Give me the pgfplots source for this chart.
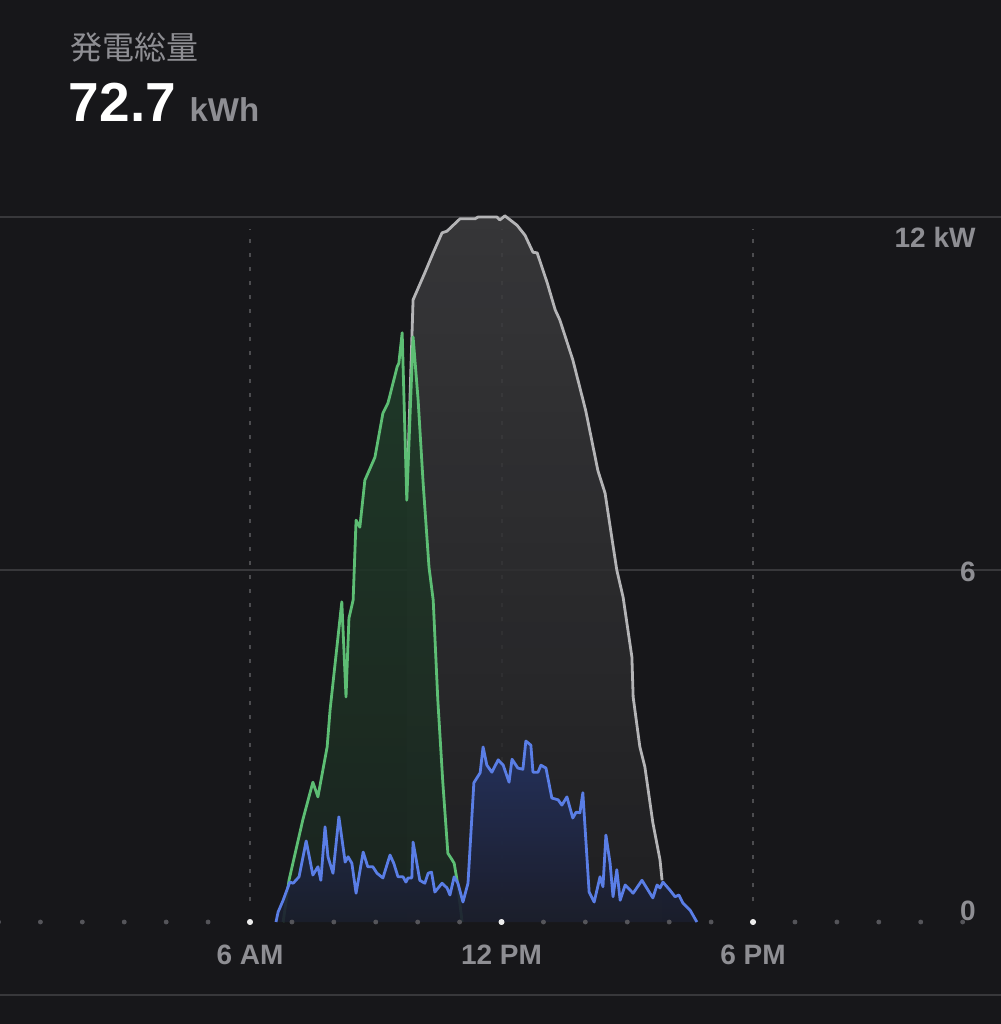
\documentclass[border=0pt]{standalone}
\usepackage{fontspec}
\setmainfont{Liberation Sans}
\newfontfamily\cjk{Noto Sans CJK JP}
\usepackage{pgfplots}
\pgfplotsset{compat=1.18}
\usepackage{pgfplotstable}

\definecolor{bg}{HTML}{17171A}
\definecolor{gridc}{HTML}{38383B}
\definecolor{dotc}{HTML}{55555A}
\definecolor{labc}{HTML}{8E8E93}
\definecolor{grayline}{HTML}{B4B4B6}
\definecolor{graytop}{HTML}{3C3C3E}
\definecolor{graybot}{HTML}{212123}
\definecolor{greenline}{HTML}{5DBE74}
\definecolor{greentop}{HTML}{203E2A}
\definecolor{greenbot}{HTML}{1B2620}
\definecolor{blueline}{HTML}{5A7EE6}
\definecolor{bluetop}{HTML}{243260}
\definecolor{bluebot}{HTML}{1B1E2C}

% gray series (kW over hour of day)
\pgfplotstableread{
h kw
9.74 7.18
9.89 10.59
10.17 11.05
10.37 11.39
10.58 11.73
10.70 11.76
11.01 11.97
11.37 11.97
11.44 12.00
11.89 12.00
11.96 11.95
12.08 12.02
12.37 11.86
12.56 11.69
12.75 11.40
12.85 11.39
13.09 10.88
13.28 10.42
13.39 10.25
13.70 9.57
14.01 8.70
14.30 7.68
14.47 7.30
14.64 6.50
14.75 5.99
14.90 5.53
15.11 4.51
15.14 3.83
15.30 2.98
15.42 2.64
15.61 1.69
15.78 1.06
15.83 0.71
}\grayser

% green series
\pgfplotstableread{
h kw
6.79 0
6.93 0.71
7.26 1.74
7.50 2.38
7.62 2.13
7.84 2.98
7.91 3.61
8.19 5.45
8.29 3.83
8.36 5.17
8.46 5.48
8.53 6.84
8.62 6.72
8.74 7.52
8.98 7.91
9.17 8.66
9.29 8.83
9.51 9.45
9.55 9.51
9.63 10.03
9.74 7.18
9.89 9.96
10.01 8.89
10.13 7.47
10.27 6.04
10.37 5.48
10.48 3.78
10.60 2.37
10.72 1.17
10.82 1.06
10.87 1.00
10.94 0.71
11.06 0
}\greenser

% blue series
\pgfplotstableread{
h kw
6.62 0
6.67 0.17
6.79 0.37
6.95 0.68
7.03 0.66
7.17 0.77
7.34 1.38
7.50 0.80
7.62 0.94
7.69 0.71
7.79 1.62
7.86 1.11
7.98 0.83
8.12 1.79
8.27 1.02
8.34 1.11
8.43 1.00
8.53 0.49
8.70 1.19
8.81 0.94
8.93 0.94
9.03 0.83
9.17 0.75
9.34 1.14
9.43 1.00
9.53 0.77
9.65 0.77
9.72 0.68
9.77 0.75
9.86 0.75
9.89 1.36
9.98 1.00
10.05 0.71
10.17 0.66
10.25 0.83
10.33 0.85
10.41 0.51
10.58 0.66
10.70 0.58
10.77 0.46
10.87 0.77
10.96 0.66
11.08 0.34
11.20 0.66
11.34 2.37
11.49 2.54
11.56 2.98
11.65 2.67
11.77 2.55
11.92 2.76
12.04 2.67
12.18 2.38
12.25 2.77
12.39 2.62
12.51 2.60
12.58 3.08
12.70 3.01
12.75 2.55
12.87 2.55
12.94 2.67
13.06 2.62
13.20 2.11
13.35 2.08
13.44 1.99
13.56 2.13
13.70 1.77
13.78 1.87
13.87 1.86
13.94 2.20
14.09 0.51
14.21 0.34
14.35 0.77
14.42 0.60
14.49 1.48
14.59 1.00
14.66 0.43
14.75 0.89
14.83 0.37
14.95 0.63
15.14 0.49
15.35 0.71
15.61 0.41
15.71 0.63
15.78 0.58
15.85 0.68
16.02 0.54
16.14 0.43
16.23 0.46
16.33 0.32
16.50 0.20
16.66 0
}\blueser

\begin{document}
\begin{tikzpicture}
\begin{axis}[
    scale only axis, width=500.5pt, height=512pt,
    xmin=0.036, xmax=23.915, ymin=-1.736, ymax=15.694,
    clip=false,
    axis line style={draw=none},
    axis background/.style={fill=bg},
    xtick={6,12,18}, xticklabels={6 AM,12 PM,6 PM},
    xticklabel style={anchor=center, yshift=34.5pt, text=labc,
        font=\fontsize{14}{14}\selectfont\bfseries},
    ytick=\empty,
    major tick length=0pt, tick style={draw=none},
    every axis plot/.append style={line join=round},
]
% grid
\draw[gridc, line width=1pt] (axis cs:0.036,12) -- (axis cs:23.915,12);
\draw[gridc, line width=1pt] (axis cs:0.036,6) -- (axis cs:23.915,6);
\draw[gridc, line width=1pt] (axis cs:0.036,-1.243) -- (axis cs:23.915,-1.243);
\foreach \t in {6,12,18}{
  \edef\tmp{\noexpand\draw[gridc!90!white, line width=1pt, dash pattern=on 2pt off 5pt]
    (axis cs:\t,0.35) -- (axis cs:\t,11.8);}\tmp
}

% gray and green areas with their lines
\addplot[draw=none, top color=graytop, bottom color=graybot, fill opacity=0.85] table[x=h,y=kw] {\grayser} \closedcycle;
\addplot[grayline, line width=1.4pt] table[x=h,y=kw] {\grayser};
\addplot[draw=none, top color=greentop, bottom color=greenbot, fill opacity=0.88] table[x=h,y=kw] {\greenser} \closedcycle;
\addplot[greenline, line width=1.4pt] table[x=h,y=kw] {\greenser};

% blue area on top
\addplot[draw=none, top color=bluetop, bottom color=bluebot, fill opacity=0.92] table[x=h,y=kw] {\blueser} \closedcycle;
\addplot[blueline, line width=1.4pt] table[x=h,y=kw] {\blueser};

% hour dots
\addplot[only marks, mark=*, mark size=1pt, dotc] coordinates {
  (0,0)(1,0)(2,0)(3,0)(4,0)(5,0)(7,0)(8,0)(9,0)(10,0)(11,0)
  (13,0)(14,0)(15,0)(16,0)(17,0)(19,0)(20,0)(21,0)(22,0)(23,0)};
\addplot[only marks, mark=*, mark size=1.3pt, white!85!gray] coordinates {(6,0)(12,0)(18,0)};

% value labels
\node[anchor=east, inner sep=0pt, text=labc, font=\fontsize{14}{14}\selectfont\bfseries]
  at (rel axis cs:0.975,0.7686) {12 kW};
\node[anchor=east, inner sep=0pt, text=labc, font=\fontsize{14}{14}\selectfont\bfseries]
  at (rel axis cs:0.975,0.4414) {6};
\node[anchor=east, inner sep=0pt, text=labc, font=\fontsize{14}{14}\selectfont\bfseries]
  at (rel axis cs:0.975,0.1104) {0};

% header
\node[anchor=west, inner sep=0pt, text=labc, font=\cjk\fontsize{16}{16}\selectfont]
  at (rel axis cs:0.0699,0.954) {発電総量};
\node[anchor=base west, inner sep=0pt, text=white, font=\fontsize{27.5}{27.5}\selectfont\bfseries]
  at (rel axis cs:0.0685,0.8818) {72.7};
\node[anchor=base west, inner sep=0pt, text=labc, font=\fontsize{16.5}{16.5}\selectfont\bfseries]
  at (rel axis cs:0.189,0.8818) {kWh};
\end{axis}
\pgfresetboundingbox
\path (current axis.south west) rectangle (current axis.north east);
\end{tikzpicture}
\end{document}
